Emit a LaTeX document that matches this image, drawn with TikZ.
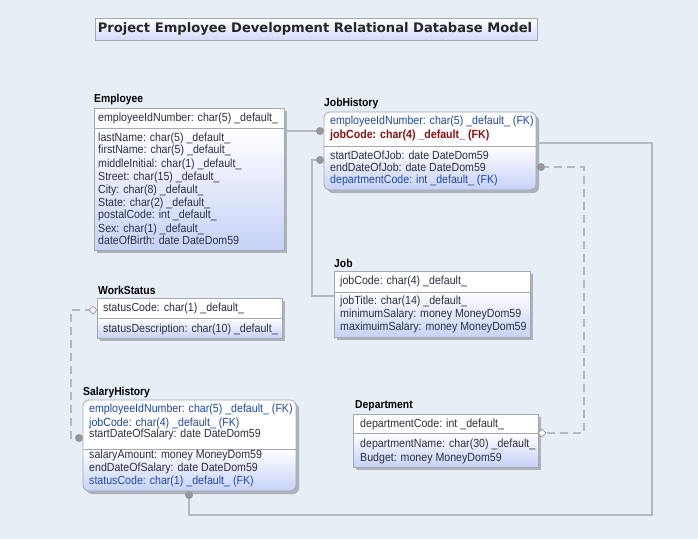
\documentclass[tikz,border=0pt]{standalone}
\usepackage{fontspec}
\newfontfamily\fldf[FakeStretch=0.9]{Liberation Sans}
\newfontfamily\titf{DejaVu Sans}
\usetikzlibrary{shapes.geometric}
\definecolor{bgc}{HTML}{E6EEF6}
\definecolor{bodyb}{HTML}{C6D2F7}
\definecolor{boxb}{HTML}{A4A8B0}
\definecolor{shadowc}{HTML}{AEB2BA}
\definecolor{linec}{HTML}{B6B8BC}
\definecolor{dotc}{HTML}{97989C}
\definecolor{plaintxt}{HTML}{2C3040}
\definecolor{fktxt}{HTML}{1E48A6}
\definecolor{redtxt}{HTML}{8E1010}
\tikzset{
  fld/.style={anchor=west, inner sep=0pt, text=plaintxt, font=\fldf\fontsize{11.8}{12}\selectfont},
  fk/.style={fld, text=fktxt},
  pkred/.style={fld, text=redtxt, font=\fldf\bfseries\fontsize{11.8}{12}\selectfont},
  enttitle/.style={anchor=west, inner sep=0pt, text=black, font=\fldf\bfseries\fontsize{11.5}{12}\selectfont},
  conn/.style={draw=linec, line width=1.6pt},
  dconn/.style={conn, dash pattern=on 8pt off 5pt},
  relend/.style={fill=dotc},
  optend/.style={diamond, draw=dotc, fill=white, line width=0.8pt, inner sep=0pt, minimum size=8pt},
  boxnode/.style={inner sep=0pt, outer sep=0pt, anchor=north west}
}
% #1 x1, #2 y1, #3 x2, #4 y2, #5 divider y, #6 corner radius, #7 name
\newcommand\erbox[7]{%
  \fill[shadowc, rounded corners=#6] (#1+3,#2+3) rectangle (#3+3,#4+3);
  \begin{scope}
    \clip[rounded corners=#6] (#1,#2) rectangle (#3,#4);
    \fill[white] (#1,#2) rectangle (#3,#5);
    \shade[top color=white, bottom color=bodyb] (#1,#5) rectangle (#3,#4);
  \end{scope}
  \draw[boxb, line width=0.8pt, rounded corners=#6] (#1,#2) rectangle (#3,#4);
  \draw[boxb, line width=0.8pt] (#1,#5) -- (#3,#5);
  \node[boxnode, minimum width={#3-#1}, minimum height={#4-#2}] (#7) at (#1,#2) {};
}
\begin{document}
\begin{tikzpicture}[x=1pt,y=-1pt]
\fill[bgc] (0,0) rectangle (698,539);
\useasboundingbox (0,0) rectangle (698,539);

% title
\shade[top color=white, bottom color=bodyb!80!white] (95,18) rectangle (537,40);
\draw[boxb, line width=0.8pt] (95,18) rectangle (537,40);
\node[inner sep=0pt, font=\titf\bfseries\fontsize{13.1}{14}\selectfont, text=black!85] (title) at (315,29) {Project Employee Development Relational Database Model};

% connector end points
\coordinate (jhA) at (320,131);
\coordinate (jhB) at (320,160);
\coordinate (jhC) at (541,167);
\coordinate (jhD) at (536,143);
\coordinate (shA) at (79,438);
\coordinate (shB) at (189,495);
\coordinate (jbA) at (334,296);
\coordinate (epA) at (284,131);
\coordinate (dpA) at (542,433);
\coordinate (wsA) at (93,310);

% connectors
\draw[conn] (epA) -- (jhA);
\draw[conn] (jbA) -- (312,296) -- (312,160) -- (jhB);
\draw[conn] (jhD) -- (652,143) -- (652,515) -- (189,515) -- (shB);
\draw[dconn] (jhC) -- (584,167) -- (584,433) -- (dpA);
\draw[dconn] (wsA) -- (71,310) -- (71,438) -- (shA);

% entities
\erbox{94}{108}{284}{250}{128}{0pt}{employee}
\erbox{324}{112}{536}{190}{146}{6pt}{jobhistory}
\erbox{334}{271}{530}{337}{292}{0pt}{job}
\erbox{97}{298}{282}{338}{318}{0pt}{workstatus}
\erbox{83}{400}{296}{491}{449}{6pt}{salaryhistory}
\erbox{353}{414}{538}{467}{433}{0pt}{department}

% relationship ends
\fill[relend] (jhA) circle (4);
\fill[relend] (jhB) circle (4);
\fill[relend] (jhC) circle (4);
\fill[relend] (shA) circle (4);
\fill[relend] (shB) circle (4);
\node[optend] (dpD) at (dpA) {};
\node[optend] (wsD) at (wsA) {};

% Employee
\node[enttitle] (tEmp) at (94,100) {Employee};
\node[fld] (e0) at (98,118) {employeeIdNumber: char(5) \_default\_};
\node[fld] (e1) at (98,138) {lastName: char(5) \_default\_};
\node[fld] (e2) at (98,150) {firstName: char(5) \_default\_};
\node[fld] (e3) at (98,164) {middleInitial: char(1) \_default\_};
\node[fld] (e4) at (98,177) {Street: char(15) \_default\_};
\node[fld] (e5) at (98,190) {City: char(8) \_default\_};
\node[fld] (e6) at (98,203) {State: char(2) \_default\_};
\node[fld] (e7) at (98,215) {postalCode: int \_default\_};
\node[fld] (e8) at (98,229) {Sex: char(1) \_default\_};
\node[fld] (e9) at (98,240) {dateOfBirth: date DateDom59};

% JobHistory
\node[enttitle] (tJh) at (324,104) {JobHistory};
\node[fk] (h0) at (330,121) {employeeIdNumber: char(5) \_default\_ (FK)};
\node[pkred] (h1) at (330,135) {jobCode: char(4) \_default\_ (FK)};
\node[fld] (h2) at (330,155) {startDateOfJob: date DateDom59};
\node[fld] (h3) at (330,167) {endDateOfJob: date DateDom59};
\node[fk] (h4) at (330,180) {departmentCode: int \_default\_ (FK)};

% Job
\node[enttitle] (tJob) at (334,263) {Job};
\node[fld] (j0) at (340,281) {jobCode: char(4) \_default\_};
\node[fld] (j1) at (340,301) {jobTitle: char(14) \_default\_};
\node[fld] (j2) at (340,314) {minimumSalary: money MoneyDom59};
\node[fld] (j3) at (340,327) {maximuimSalary: money MoneyDom59};

% WorkStatus
\node[enttitle] (tWs) at (98,290) {WorkStatus};
\node[fld] (w0) at (103,308) {statusCode: char(1) \_default\_};
\node[fld] (w1) at (103,329) {statusDescription: char(10) \_default\_};

% SalaryHistory
\node[enttitle] (tSh) at (83,393) {SalaryHistory};
\node[fk] (s0) at (89,409) {employeeIdNumber: char(5) \_default\_ (FK)};
\node[fk] (s1) at (89,423) {jobCode: char(4) \_default\_ (FK)};
\node[fld] (s2) at (89,434) {startDateOfSalary: date DateDom59};
\node[fld] (s3) at (89,455) {salaryAmount: money MoneyDom59};
\node[fld] (s4) at (89,468) {endDateOfSalary: date DateDom59};
\node[fk] (s5) at (89,481) {statusCode: char(1) \_default\_ (FK)};

% Department
\node[enttitle] (tDp) at (355,406) {Department};
\node[fld] (d0) at (360,424) {departmentCode: int \_default\_};
\node[fld] (d1) at (360,444) {departmentName: char(30) \_default\_};
\node[fld] (d2) at (360,458) {Budget: money MoneyDom59};
\end{tikzpicture}
\end{document}
